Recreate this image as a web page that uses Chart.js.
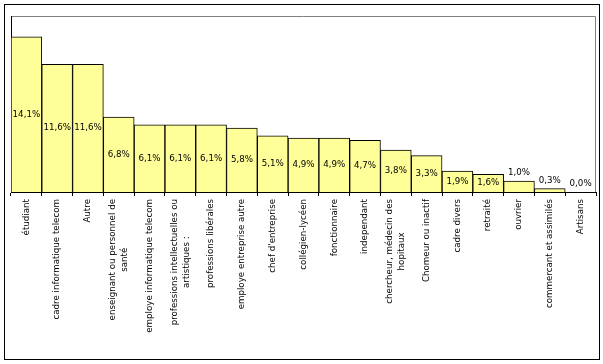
<!DOCTYPE html>
<html>
<head>
<meta charset="utf-8">
<script src="https://cdn.jsdelivr.net/npm/chart.js@4"></script>
<style>
  html, body { margin: 0; padding: 0; background: #fff; }
  #wrap { width: 603px; height: 364px; }
</style>
</head>
<body>
<div id="wrap"><canvas id="myChart" width="603" height="364"></canvas></div>
<script>
const categories = [
  ["étudiant"],
  ["cadre informatique telecom"],
  ["Autre"],
  ["enseignant ou personnel de", "santé"],
  ["employe informatique telecom"],
  ["professions intellectuelles ou", "artistiques :"],
  ["professions libérales"],
  ["employe entreprise autre"],
  ["chef d'entreprise"],
  ["collégien-lycéen"],
  ["fonctionnaire"],
  ["independant"],
  ["chercheur, médecin des", "hopitaux"],
  ["Chomeur ou inactif"],
  ["cadre divers"],
  ["retraité"],
  ["ouvrier"],
  ["commercant et assimilés"],
  ["Artisans"],
];
const values = [14.1, 11.6, 11.6, 6.8, 6.1, 6.1, 6.1, 5.8, 5.1, 4.9, 4.9, 4.7, 3.8, 3.3, 1.9, 1.6, 1.0, 0.3, 0.0];
const yMax = 16;

const FONT = "8.7px 'DejaVu Sans'";

// frame, plot-area border and custom labels
const decor = {
  id: "decor",
  beforeDraw(chart) {
    const c = chart.ctx;
    const a = chart.chartArea;
    c.save();
    c.fillStyle = "#fff";
    c.fillRect(0, 0, chart.width, chart.height);
    c.strokeStyle = "#000";
    c.lineWidth = 1;
    c.strokeRect(4.5, 4.5, 595, 355);
    c.strokeStyle = "#808080";
    c.beginPath();
    c.moveTo(a.left, a.top + 0.5);
    c.lineTo(a.right - 0.5, a.top + 0.5);
    c.lineTo(a.right - 0.5, a.bottom);
    c.stroke();
    c.strokeStyle = "#000";
    c.beginPath();
    c.moveTo(a.left + 0.5, a.top);
    c.lineTo(a.left + 0.5, a.bottom);
    c.stroke();
    c.restore();
  },
  afterDatasetsDraw(chart) {
    const c = chart.ctx;
    const meta = chart.getDatasetMeta(0);
    c.save();
    c.font = FONT;
    c.fillStyle = "#000";
    c.textAlign = "center";
    meta.data.forEach((bar, i) => {
      const txt = values[i].toFixed(1).replace(".", ",") + "%";
      const h = bar.base - bar.y;
      if (h > 15) {
        c.textBaseline = "middle";
        c.fillText(txt, bar.x, (bar.y + bar.base) / 2);
      } else {
        c.textBaseline = "bottom";
        c.fillText(txt, bar.x, bar.y - 4);
      }
    });
    c.restore();
  },
  afterDraw(chart) {
    const c = chart.ctx;
    const xs = chart.scales.x;
    const lineH = 12;
    c.save();
    c.font = FONT;
    c.fillStyle = "#000";
    c.textAlign = "center";
    c.textBaseline = "middle";
    categories.forEach((lines, i) => {
      const x = xs.getPixelForValue(i);
      const maxW = Math.max(...lines.map((l) => c.measureText(l).width));
      c.save();
      c.translate(x, 199);
      c.rotate(-Math.PI / 2);
      lines.forEach((l, k) => {
        c.fillText(l, -maxW / 2, (k - (lines.length - 1) / 2) * lineH);
      });
      c.restore();
    });
    c.restore();
  },
};

const ctx = document.getElementById("myChart");
const myChart = new Chart(ctx, {
  type: "bar",
  data: {
    labels: categories.map((l) => l.join(" ")),
    datasets: [
      {
        data: values,
        backgroundColor: "#FFFF99",
        borderColor: "#000000",
        borderWidth: 1,
        categoryPercentage: 1,
        barPercentage: 1,
      },
    ],
  },
  options: {
    responsive: false,
    maintainAspectRatio: false,
    animation: false,
    layout: {
      padding: { left: 11, top: 16, right: 7, bottom: 0 },
    },
    scales: {
      x: {
        offset: true,
        grid: {
          offset: true,
          drawOnChartArea: false,
          drawTicks: true,
          tickLength: 4,
          color: "#000",
        },
        border: { color: "#000", width: 1 },
        ticks: { display: false },
        afterFit: function (scale) {
          scale.height = 172;
        },
      },
      y: {
        display: false,
        min: 0,
        max: yMax,
      },
    },
    plugins: {
      legend: { display: false },
      tooltip: { enabled: false },
    },
  },
  plugins: [decor],
});
</script>
</body>
</html>
